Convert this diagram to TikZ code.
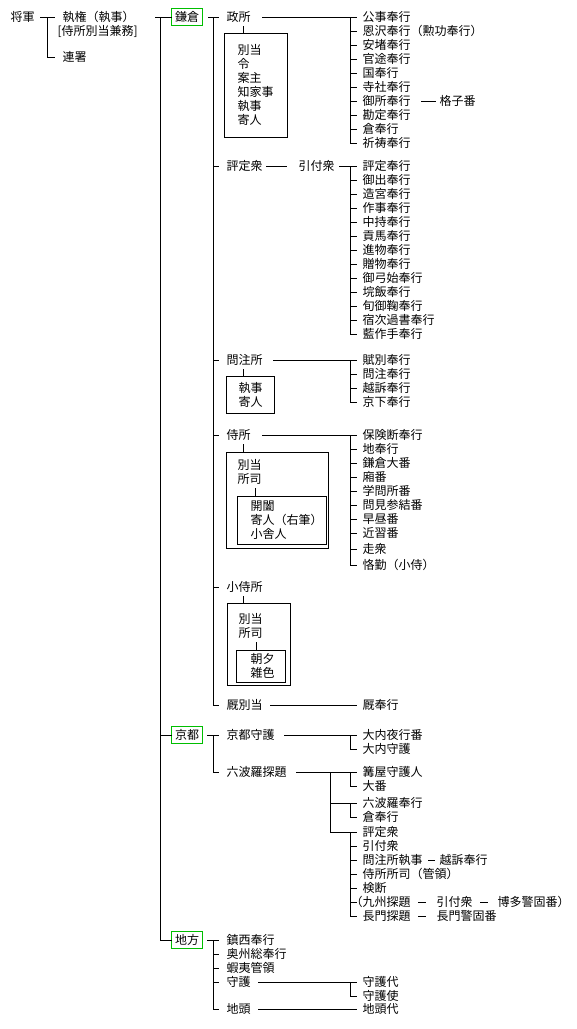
\documentclass[tikz,border=0pt]{standalone}
\usepackage{fontspec}
\newfontfamily\jp{Noto Sans CJK JP}
\usetikzlibrary{calc,positioning}
\definecolor{gb}{RGB}{0,190,0}
\newcommand\bvert[3]{%
  \draw ([xshift=-12pt]#1#2.west) -- ([xshift=-12pt]#1#3.west);
  \foreach \i in {#2,...,#3} \draw ([xshift=-12pt]#1\i.west) -- ([xshift=-6pt]#1\i.west);}
\begin{document}
\begin{tikzpicture}[x=1pt,y=-1pt,line width=1pt,line cap=rect,
  every node/.style={font=\jp\fontsize{12}{14}\selectfont,inner sep=0pt},
  lbl/.style={anchor=west,text height=10.5pt,text depth=1.5pt},
  gbox/.style={draw=gb,fill=white,anchor=west,inner xsep=3.5pt,inner ysep=2.5pt,text height=10.5pt,text depth=1.5pt},
  frame/.style 2 args={draw,minimum width=#1,minimum height=#2}]
\fill[white] (0,0) rectangle (577,1029);
\useasboundingbox (0,0) rectangle (577,1029);

% ---------- top level ----------
\node[lbl] (shogun) at (10,17) {将軍};
\node[lbl] (shikken) at (62,17) {執権（執事）};
\node[lbl] (kenmu) at (57,31) {[侍所別当兼務]};
\node[lbl] (rensho) at (62,57) {連署};
\coordinate (j0) at (47,17);
\draw ([xshift=5pt]shogun.east) -- ([xshift=-8pt]shikken.west);
\draw (j0) |- ([xshift=-8pt]rensho.west);

\node[gbox] (kamakura) at (171,17) {鎌倉};
\node[gbox] (kyoto) at (171,735) {京都};
\node[gbox] (chiho) at (171,940) {地方};
\coordinate (sp) at (160,17);
\draw ([xshift=20pt]shikken.east) -- (kamakura.west);
\draw (sp) |- (chiho.west);
\draw (kyoto.west -| sp) -- (kyoto.west);

% ---------- Kamakura ----------
\coordinate (ks) at (213,17);
\node[lbl] (mandokoro) at (226,17) {政所};
\node[lbl] (hyojo) at (226,166) {評定衆};
\node[lbl] (hikitsuke) at (298,166) {引付衆};
\node[lbl] (monchu) at (226,360) {問注所};
\node[lbl] (samurai) at (226,435) {侍所};
\node[lbl] (kosamurai) at (226,587) {小侍所};
\node[lbl] (umaya) at (226,705) {厩別当};
\node[lbl] (umabugyo) at (362,705) {厩奉行};
\draw ([xshift=5pt]kamakura.east) -- ([xshift=-8pt]mandokoro.west);
\draw (ks) |- ([xshift=-8pt]umaya.west);
\foreach \n in {hyojo,monchu,samurai,kosamurai}
  \draw (\n.west -| ks) -- ([xshift=-8pt]\n.west);
\draw ([xshift=7pt]umaya.east) -- ([xshift=-6pt]umabugyo.west);

% 政所
\foreach \lab [count=\i] in {公事奉行,恩沢奉行（勲功奉行）,安堵奉行,官途奉行,国奉行,寺社奉行,御所奉行,勘定奉行,倉奉行,祈祷奉行}
  \node[lbl] (ma\i) at (362,{17+14*(\i-1)}) {\lab};
\draw ([xshift=11pt]mandokoro.east) -- ([xshift=-6pt]ma1.west);
\bvert{ma}{1}{10}
\node[lbl,right=28pt of ma7] (koshi) {格子番};
\draw ([xshift=10pt]ma7.east) -- ([xshift=-4pt]koshi.west);
\node[frame={63pt}{104pt}] (mbox) at (255.5,85) {};
\foreach \lab [count=\i] in {別当,令,案主,知家事,執事,寄人}
  \node[lbl] (mb\i) at (237,{50+14*(\i-1)}) {\lab};
\draw ($(mandokoro.west)+(17,9)$) -- ($(mandokoro.west |- mbox.north)+(17,0)$);

% 評定衆 - 引付衆
\draw ([xshift=3pt]hyojo.east) -- ([xshift=-12pt]hikitsuke.west);
\foreach \lab [count=\i] in {評定奉行,御出奉行,造宮奉行,作事奉行,中持奉行,貢馬奉行,進物奉行,贈物奉行,御弓始奉行,垸飯奉行,旬御鞠奉行,宿次過書奉行,藍作手奉行}
  \node[lbl] (hb\i) at (362,{166+14*(\i-1)}) {\lab};
\draw ([xshift=4pt]hikitsuke.east) -- ([xshift=-6pt]hb1.west);
\bvert{hb}{1}{13}

% 問注所
\foreach \lab [count=\i] in {賦別奉行,問注奉行,越訴奉行,京下奉行}
  \node[lbl] (mc\i) at (362,{360+14*(\i-1)}) {\lab};
\draw ([xshift=10pt]monchu.east) -- ([xshift=-6pt]mc1.west);
\bvert{mc}{1}{4}
\node[frame={48pt}{37pt}] (mcbox) at (250,394.5) {};
\node[lbl] (mcb1) at (238,387.5) {執事};
\node[lbl] (mcb2) at (238,401.5) {寄人};
\draw ($(monchu.west)+(17,9)$) -- ($(monchu.west |- mcbox.north)+(17,0)$);

% 侍所
\foreach \lab/\yy [count=\i] in {保険断奉行/435,地奉行/449,鎌倉大番/463,廂番/477,学問所番/491,問見参結番/505,早昼番/519,近習番/533,走衆/549,恪勤（小侍）/565}
  \node[lbl] (sa\i) at (362,\yy) {\lab};
\draw ([xshift=11pt]samurai.east) -- ([xshift=-6pt]sa1.west);
\bvert{sa}{1}{10}
\node[frame={102pt}{96pt}] (sbox) at (277,500) {};
\node[lbl] (sb1) at (237,465) {別当};
\node[lbl] (sb2) at (237,479) {所司};
\draw ($(samurai.west)+(17,9)$) -- ($(samurai.west |- sbox.north)+(17,0)$);
\node[frame={89pt}{48pt}] (sibox) at (281.5,520) {};
\node[lbl] (si1) at (250,506) {開闔};
\node[lbl] (si2) at (250,520) {寄人（右筆）};
\node[lbl] (si3) at (250,534) {小舎人};
\draw ($(sb2.west)+(18,9)$) -- ($(sb2.west |- sibox.north)+(18,0)$);

% 小侍所
\node[frame={63pt}{82pt}] (kbox) at (258.5,644) {};
\node[lbl] (kb1) at (238,619) {別当};
\node[lbl] (kb2) at (238,633) {所司};
\draw ($(kosamurai.west)+(17,9)$) -- ($(kosamurai.west |- kbox.north)+(17,0)$);
\node[frame={49pt}{32pt}] (kibox) at (260.5,666) {};
\node[lbl] (ki1) at (250,659) {朝夕};
\node[lbl] (ki2) at (250,673) {雑色};
\draw ($(kb2.west)+(18,9)$) -- ($(kb2.west |- kibox.north)+(18,0)$);

% ---------- Kyoto ----------
\coordinate (kys) at (213,735);
\node[lbl] (kshugo) at (226,735) {京都守護};
\node[lbl] (rokuhara) at (226,772) {六波羅探題};
\draw ([xshift=4pt]kyoto.east) -- ([xshift=-8pt]kshugo.west);
\draw (kys) |- ([xshift=-8pt]rokuhara.west);
\node[lbl] (kg1) at (362,735) {大内夜行番};
\node[lbl] (kg2) at (362,749) {大内守護};
\draw ([xshift=9pt]kshugo.east) -- ([xshift=-6pt]kg1.west);
\bvert{kg}{1}{2}

\foreach \lab/\yy [count=\i] in {篝屋守護人/772,大番/786,六波羅奉行/803,倉奉行/817,評定衆/832,引付衆/846,問注所執事/860,侍所所司（管領）/874,検断/888}
  \node[lbl] (r\i) at (362,\yy) {\lab};
\node[lbl] (r10) at (362,902) {\llap{（}九州探題};
\node[lbl] (r11) at (362,916) {長門探題};
\coordinate (rj) at (330,772);
\draw ([xshift=9pt]rokuhara.east) -- ([xshift=-6pt]r1.west);
\draw (rj) |- ([xshift=-6pt]r5.west);
\draw (r3.west -| rj) -- ([xshift=-6pt]r3.west);
\bvert{r}{1}{2}
\bvert{r}{3}{4}
\bvert{r}{5}{11}
\node[lbl,right=16pt of r7] (q0) {越訴奉行};
\draw ([xshift=5pt]r7.east) -- ([xshift=-5pt]q0.west);
\node[lbl,right=25pt of r10] (q2) {引付衆};
\node[lbl,right=24pt of q2] (q3) {博多警固番）};
\draw ([xshift=7pt]r10.east) -- ([xshift=-11pt]q2.west);
\draw ([xshift=7pt]q2.east) -- ([xshift=-10pt]q3.west);
\node[lbl,right=25pt of r11] (q4) {長門警固番};
\draw ([xshift=7pt]r11.east) -- ([xshift=-11pt]q4.west);

% ---------- Chiho ----------
\coordinate (chs) at (213,940);
\foreach \lab/\yy [count=\i] in {鎮西奉行/940,奥州総奉行/954,蝦夷管領/968,守護/982,地頭/1009}
  \node[lbl] (c\i) at (226,\yy) {\lab};
\draw ([xshift=4pt]chiho.east) -- ([xshift=-8pt]c1.west);
\draw (chs) |- ([xshift=-8pt]c5.west);
\foreach \i in {2,3,4} \draw (c\i.west -| chs) -- ([xshift=-8pt]c\i.west);
\node[lbl] (sg1) at (362,982) {守護代};
\node[lbl] (sg2) at (362,996) {守護使};
\draw ([xshift=7pt]c4.east) -- ([xshift=-6pt]sg1.west);
\bvert{sg}{1}{2}
\node[lbl] (jd) at (362,1009) {地頭代};
\draw ([xshift=7pt]c5.east) -- ([xshift=-6pt]jd.west);
\end{tikzpicture}
\end{document}
